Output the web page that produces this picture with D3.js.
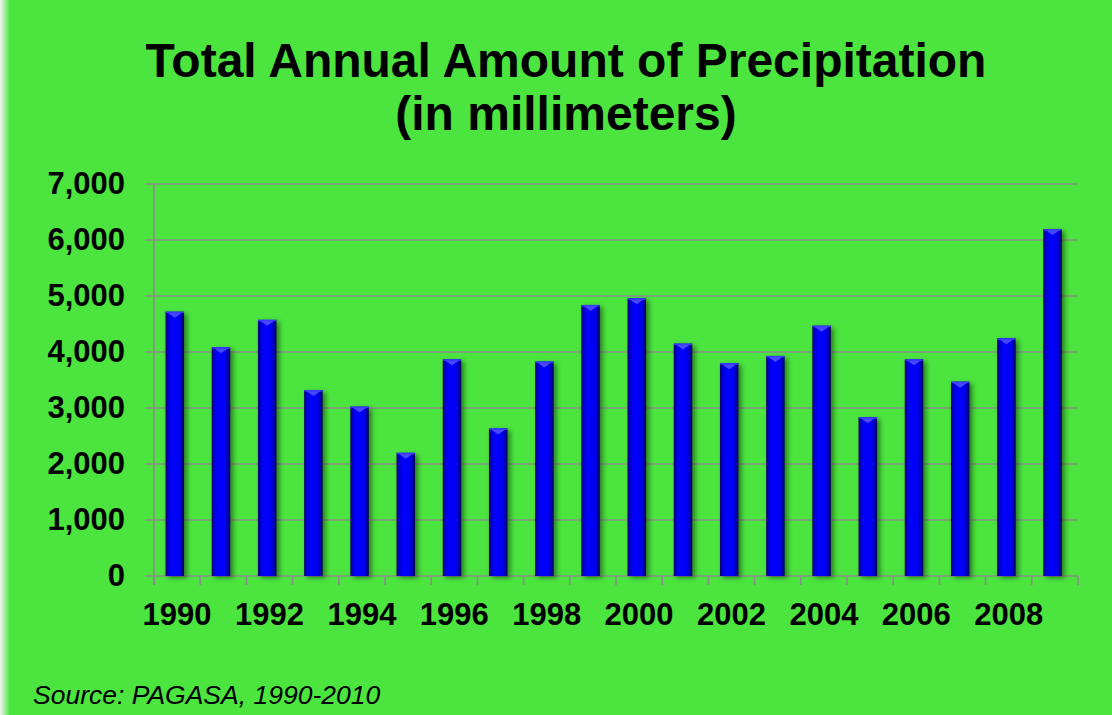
<!DOCTYPE html>
<html>
<head>
<meta charset="utf-8">
<script src="https://cdn.jsdelivr.net/npm/d3@7/dist/d3.min.js"></script>
<title>Total Annual Amount of Precipitation</title>
<style>
    body { margin: 0; background: #4ce43e; }
    svg { display: block; font-family: "Liberation Sans", Arial, sans-serif; }
</style>
</head>
<body>
<svg width="1112" height="715"></svg>
<script>
    // data
    const years = d3.range(1990, 2010);
    const precip = [4720, 4085, 4575, 3320, 3025, 2200, 3870, 2635, 3830, 4840,
                    4960, 4150, 3800, 3930, 4470, 2835, 3870, 3470, 4245, 6195];
    const yTicks = [0, 1000, 2000, 3000, 4000, 5000, 6000, 7000];
    const xLabels = [1990, 1992, 1994, 1996, 1998, 2000, 2002, 2004, 2006, 2008];
    const titleLines = ["Total Annual Amount of Precipitation", "(in millimeters)"];
    const source = "Source: PAGASA, 1990-2010";

    const margin = {left: 154, right: 34, top: 184, bottom: 139};
    const W = 1112, H = 715;
    const plotW = W - margin.left - margin.right;
    const plotH = H - margin.top - margin.bottom;

    const svg = d3.select("svg");

    svg.append("rect").attr("width", W).attr("height", H).attr("fill", "#4ce43e");
    // faint light strip on the left edge like the slide
    const edge = svg.append("defs").append("linearGradient").attr("id", "edge");
    edge.append("stop").attr("offset", "0%").attr("stop-color", "#f4f4f4");
    edge.append("stop").attr("offset", "100%").attr("stop-color", "#4ce43e");
    svg.append("rect").attr("width", 10).attr("height", H).attr("fill", "url(#edge)");

    const defs = svg.select("defs");
    const barGrad = defs.append("linearGradient").attr("id", "barGrad");
    [["0%", "#00005a"], ["12%", "#0000c8"], ["35%", "#0000ff"], ["70%", "#0000f4"], ["88%", "#0000b4"], ["100%", "#000040"]]
        .forEach(s => barGrad.append("stop").attr("offset", s[0]).attr("stop-color", s[1]));
    const shadow = defs.append("filter").attr("id", "shadow")
        .attr("x", "-50%").attr("y", "-5%").attr("width", "200%").attr("height", "110%");
    shadow.append("feGaussianBlur").attr("in", "SourceAlpha").attr("stdDeviation", 2.5).attr("result", "b");
    shadow.append("feOffset").attr("in", "b").attr("dx", 3).attr("dy", 2).attr("result", "o");
    shadow.append("feComponentTransfer").attr("in", "o").attr("result", "s")
        .append("feFuncA").attr("type", "linear").attr("slope", 0.45);
    const merge = shadow.append("feMerge");
    merge.append("feMergeNode").attr("in", "s");
    merge.append("feMergeNode").attr("in", "SourceGraphic");

    const x = d3.scaleBand().domain(years).range([margin.left, margin.left + plotW]);
    const y = d3.scaleLinear().domain([0, 7000]).range([margin.top + plotH, margin.top]);

    const grid = "#8c8c8c";

    // gridlines
    svg.append("g")
        .selectAll("line")
        .data(yTicks)
        .enter()
        .append("line")
        .attr("x1", margin.left - 9)
        .attr("x2", margin.left + plotW)
        .attr("y1", d => y(d))
        .attr("y2", d => y(d))
        .attr("stroke", grid)
        .attr("stroke-width", 1.6);

    // y axis
    const yAxis = svg.append("g")
        .attr("transform", `translate(${margin.left},0)`)
        .call(d3.axisLeft(y).tickValues(yTicks).tickSize(0).tickPadding(29).tickFormat(d3.format(",")));
    yAxis.select(".domain").remove();
    yAxis.selectAll("text")
        .attr("font-size", 31).attr("font-weight", "bold").attr("fill", "#000")
        .attr("font-family", "Liberation Sans, Arial, sans-serif");
    svg.append("line")
        .attr("x1", margin.left).attr("x2", margin.left)
        .attr("y1", y(7000)).attr("y2", y(0) + 9)
        .attr("stroke", grid).attr("stroke-width", 1.6);

    // x axis ticks at band edges
    const edges = years.map(d => x(d)).concat([margin.left + plotW]);
    svg.append("g")
        .selectAll("line")
        .data(edges)
        .enter()
        .append("line")
        .attr("x1", d => d).attr("x2", d => d)
        .attr("y1", y(0)).attr("y2", y(0) + 9)
        .attr("stroke", grid).attr("stroke-width", 1.6);

    // bars
    const bw = x.bandwidth();
    const bars = svg.append("g")
        .selectAll("g")
        .data(years.map((yr, i) => ({year: yr, value: precip[i]})))
        .enter()
        .append("g");
    bars.append("rect")
        .attr("x", d => x(d.year) + bw * 0.25)
        .attr("width", bw * 0.4)
        .attr("y", d => y(d.value))
        .attr("height", d => y(0) - y(d.value))
        .attr("fill", "url(#barGrad)")
        .attr("filter", "url(#shadow)");
    // little bevel highlight at bar top
    bars.append("path")
        .attr("d", d => {
            const x0 = x(d.year) + bw * 0.25, w = bw * 0.4, t = y(d.value);
            return `M${x0 + 2},${t + 1} L${x0 + w - 2},${t + 1} L${x0 + w / 2},${t + 6} Z`;
        })
        .attr("fill", "#5a5aff")
        .attr("opacity", 0.8);
    bars.append("rect")
        .attr("x", d => x(d.year) + bw * 0.25)
        .attr("width", bw * 0.4)
        .attr("y", d => y(d.value))
        .attr("height", 1.5)
        .attr("fill", "#3a3aff");

    // x labels
    svg.append("g")
        .selectAll("text")
        .data(xLabels)
        .enter()
        .append("text")
        .attr("x", d => x(d) + bw / 2)
        .attr("y", 625)
        .attr("text-anchor", "middle")
        .attr("font-size", 31)
        .attr("font-weight", "bold")
        .text(d => d);

    // title
    svg.append("g")
        .selectAll("text")
        .data(titleLines)
        .enter()
        .append("text")
        .attr("x", 566)
        .attr("y", (d, i) => 77 + i * 53)
        .attr("text-anchor", "middle")
        .attr("font-size", 48)
        .attr("font-weight", "bold")
        .text(d => d);

    svg.append("text")
        .attr("x", 33)
        .attr("y", 704)
        .attr("font-size", 26.5)
        .attr("font-style", "italic")
        .text(source);
</script>
</body>
</html>
